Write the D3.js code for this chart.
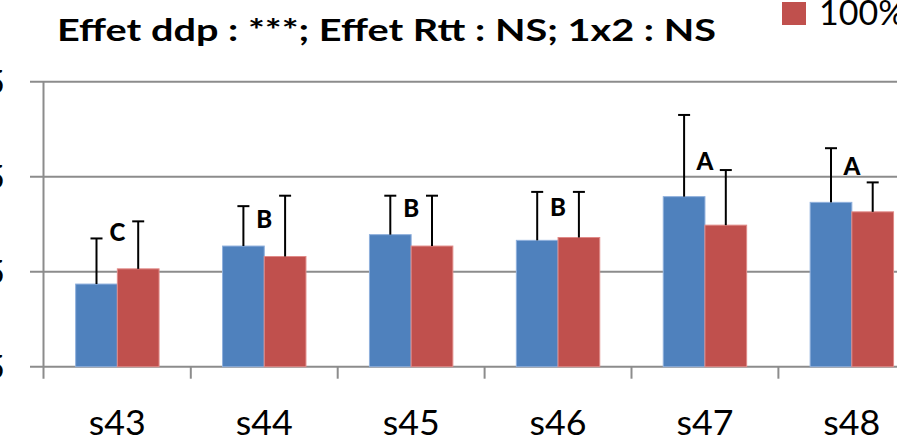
<!DOCTYPE html>
<html><head><meta charset="utf-8">
<script src="https://cdn.jsdelivr.net/npm/d3@7"></script>
<style>html,body{margin:0;padding:0;background:#fff;overflow:hidden}svg{display:block}</style>
</head><body>
<svg id="chart" width="897" height="443"></svg>
<script>
const categories = ["s43","s44","s45","s46","s47","s48"];
const seriesNames = ["Témoin","100%"];
const blueValues = [13.7,17.7,18.9,18.3,22.9,22.3];
const blueErrTop = [18.5,21.9,23.0,23.4,31.5,28.0];
const redValues  = [15.3,16.6,17.7,18.6,19.9,21.3];
const redErrTop  = [20.3,23.0,23.0,23.4,25.7,24.4];
const letters    = ["C","B","B","B","A","A"];
const letterY    = [19.2,20.6,21.7,21.8,26.7,26.1];
const yTicks = [5,15,25,35];
const yTickLabels = ["5","15","25","35"];
const titleText = "Effet ddp : ***; Effet Rtt : NS; 1x2 : NS";
const colors = ["#4F81BD","#C0504D"];

const svg = d3.select("#chart");
const x0 = d3.scaleBand().domain(categories).range([43.9, 43.9 + 6*146.9]).padding(0);
const x1 = d3.scaleBand().domain(seriesNames).range([31.75, 115.15]).padding(0);
const y = d3.scaleLinear().domain([5,35]).range([366.7, 81.7]);

// gridlines
svg.append("g").selectAll("line").data(yTicks).join("line")
  .attr("x1", 30).attr("x2", 897)
  .attr("y1", d=>y(d)).attr("y2", d=>y(d))
  .attr("stroke","#8c8c8c").attr("stroke-width",2);

// y axis line
svg.append("line").attr("x1",43.5).attr("x2",43.5).attr("y1",y(35)).attr("y2",y(5)+12)
  .attr("stroke","#8c8c8c").attr("stroke-width",2);

// category tick marks
svg.append("g").selectAll("line").data(categories.slice(1)).join("line")
  .attr("x1", d=>x0(d)).attr("x2", d=>x0(d))
  .attr("y1", y(5)).attr("y2", y(5)+12)
  .attr("stroke","#8c8c8c").attr("stroke-width",2);

// y tick labels (cut off at left edge, as in the reference)
svg.append("g").selectAll("text").data(yTicks).join("text")
  .attr("x", 5).attr("y", d=>y(d)+12)
  .attr("text-anchor","end")
  .attr("font-family","Lato, 'Open Sans', sans-serif").attr("font-size",33)
  .attr("fill","#000")
  .text((d,i)=>yTickLabels[i]);

const rows = categories.map((c,i)=>({c, vals:[blueValues[i], redValues[i]], errs:[blueErrTop[i], redErrTop[i]]}));

const g = svg.append("g").selectAll("g").data(rows).join("g")
  .attr("transform", d=>`translate(${x0(d.c)},0)`);

g.selectAll("rect").data(d=>d.vals.map((v,k)=>({s:seriesNames[k],v,k}))).join("rect")
  .attr("x", d=>x1(d.s)).attr("width", x1.bandwidth())
  .attr("y", d=>y(d.v)).attr("height", d=>y(5)-y(d.v))
  .attr("fill", d=>colors[d.k])
  .attr("stroke", d=>d.k===0 ? "#8fb0dc" : "#e08a88").attr("stroke-width",1);

// error bars (upward only)
const eb = g.selectAll("g.err").data(d=>d.vals.map((v,k)=>({s:seriesNames[k],v,e:d.errs[k]}))).join("g").attr("class","err");
eb.append("line")
  .attr("x1", d=>x1(d.s)+x1.bandwidth()/2).attr("x2", d=>x1(d.s)+x1.bandwidth()/2)
  .attr("y1", d=>y(d.v)).attr("y2", d=>y(d.e))
  .attr("stroke","#000").attr("stroke-width",2);
eb.append("line")
  .attr("x1", d=>x1(d.s)+x1.bandwidth()/2-6).attr("x2", d=>x1(d.s)+x1.bandwidth()/2+6)
  .attr("y1", d=>y(d.e)).attr("y2", d=>y(d.e))
  .attr("stroke","#000").attr("stroke-width",2);

// significance letters
svg.append("g").selectAll("text").data(categories).join("text")
  .attr("x", d=>x0(d)+x0.bandwidth()/2).attr("y", (d,i)=>y(letterY[i])+9)
  .attr("text-anchor","middle")
  .attr("font-family","Lato, sans-serif").attr("font-weight","900").attr("font-size",24)
  .text((d,i)=>letters[i]);

// x labels
svg.append("g").selectAll("text").data(categories).join("text")
  .attr("x", d=>x0(d)+x0.bandwidth()/2).attr("y", 435)
  .attr("text-anchor","middle")
  .attr("font-family","Lato, sans-serif").attr("font-size",34)
  .attr("textLength",57).attr("lengthAdjust","spacingAndGlyphs")
  .text(d=>d);

// title
svg.append("text").attr("x",57).attr("y",41)
  .attr("font-family","Lato, sans-serif").attr("font-weight","bold").attr("font-size",30)
  .attr("textLength",659).attr("lengthAdjust","spacingAndGlyphs")
  .text(titleText);

// legend (partially visible)
svg.append("rect").attr("x",782).attr("y",2).attr("width",24).attr("height",23).attr("fill",colors[1]);
svg.append("text").attr("x",819).attr("y",25)
  .attr("font-family","Lato, sans-serif").attr("font-size",34)
  .text(seriesNames[1]);
</script>
</body></html>
